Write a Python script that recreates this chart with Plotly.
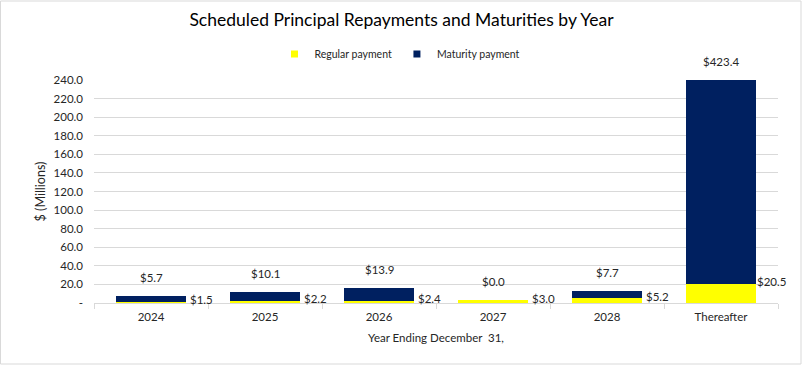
import plotly.graph_objects as go

categories = ["2024", "2025", "2026", "2027", "2028", "Thereafter"]
regular = [1.5, 2.2, 2.4, 3.0, 5.2, 20.5]
maturity = [5.7, 10.1, 13.9, 0.0, 7.7, 423.4]
y_tickvals = [0, 20, 40, 60, 80, 100, 120, 140, 160, 180, 200, 220, 240]
y_ticktext = ["-"] + [f"{v:.1f}" for v in y_tickvals[1:]]
y_max = 240

YELLOW = "#FFFF00"
NAVY = "#002060"
FONT = "Lato, 'Open Sans', sans-serif"
TXT = "#262626"

W, H = 803, 366
L, R, T, B = 94, 25, 80, 63
PW, PH = W - L - R, H - T - B

fig = go.Figure()
fig.add_trace(go.Bar(x=categories, y=regular, name="Regular payment", showlegend=False,
                     marker=dict(color=YELLOW, line=dict(width=0))))
fig.add_trace(go.Bar(x=categories, y=maturity, name="Maturity payment", showlegend=False,
                     marker=dict(color=NAVY, line=dict(width=0))))
# legend entries with small square symbols
fig.add_trace(go.Scatter(x=[None], y=[None], mode="markers", name="Regular payment",
                         marker=dict(symbol="square", size=7, color=YELLOW)))
fig.add_trace(go.Scatter(x=[None], y=[None], mode="markers", name="Maturity payment",
                         marker=dict(symbol="square", size=7, color=NAVY)))

annotations = []
for i, (r, m) in enumerate(zip(regular, maturity)):
    top = min(r + m, y_max)
    annotations.append(dict(x=i, y=top, xref="x", yref="y", text=f"${m:.1f}",
                            showarrow=False, yanchor="bottom", yshift=10,
                            font=dict(size=11.5, color=TXT, family=FONT)))
    annotations.append(dict(x=i, y=min(r, y_max), xref="x", yref="y", text=f"${r:.1f}",
                            showarrow=False, xanchor="center", yanchor="middle",
                            xshift=50, yshift=2,
                            font=dict(size=11.5, color=TXT, family=FONT)))

def px_to_paper_x(p):
    return (p - L) / PW

def px_to_paper_y(p):
    return (H - B - p) / PH

fig.update_layout(
    width=W, height=H,
    margin=dict(l=L, r=R, t=T, b=B, autoexpand=False),
    barmode="stack",
    bargap=0.39,
    plot_bgcolor="white",
    paper_bgcolor="white",
    font=dict(family=FONT, color=TXT, size=12),
    title=dict(text="Scheduled Principal Repayments and Maturities by Year",
               x=0.5, xref="container", xanchor="center", y=1 - 20 / H, yanchor="middle",
               font=dict(size=17.5, color="#000000", family=FONT)),
    legend=dict(orientation="h", x=px_to_paper_x(400), xanchor="center",
                y=px_to_paper_y(54), yanchor="middle",
                font=dict(size=10.5, color=TXT, family=FONT),
                itemwidth=30, traceorder="normal", bgcolor="rgba(0,0,0,0)"),
    xaxis=dict(type="category", range=[-0.5, len(categories) - 0.5],
               showgrid=False, showline=True, linecolor="#D9D9D9",
               linewidth=1, ticks="outside", tickson="boundaries", ticklen=5,
               tickcolor="#D9D9D9", tickfont=dict(size=11.5, color=TXT),
               ticklabelstandoff=3,
               title=dict(text="Year Ending December\u00a0 31,", standoff=12,
                          font=dict(size=11.5, color=TXT))),
    yaxis=dict(range=[0, y_max], tickvals=y_tickvals, ticktext=y_ticktext,
               showgrid=True, gridcolor="#D9D9D9", gridwidth=1, zeroline=False,
               showline=False, ticks="", tickfont=dict(size=11.5, color=TXT),
               ticklabelstandoff=10,
               title=dict(text="$ (Millions)", standoff=5, font=dict(size=12.5, color=TXT))),
    annotations=annotations,
    shapes=[dict(type="rect", xref="paper", yref="paper",
                 x0=px_to_paper_x(0.5), x1=px_to_paper_x(801),
                 y0=px_to_paper_y(364), y1=px_to_paper_y(1),
                 line=dict(color="#D9D9D9", width=1), layer="below")],
)

fig.write_html("out.html", config={"displayModeBar": False},
               post_script="document.body.style.margin='0';")
